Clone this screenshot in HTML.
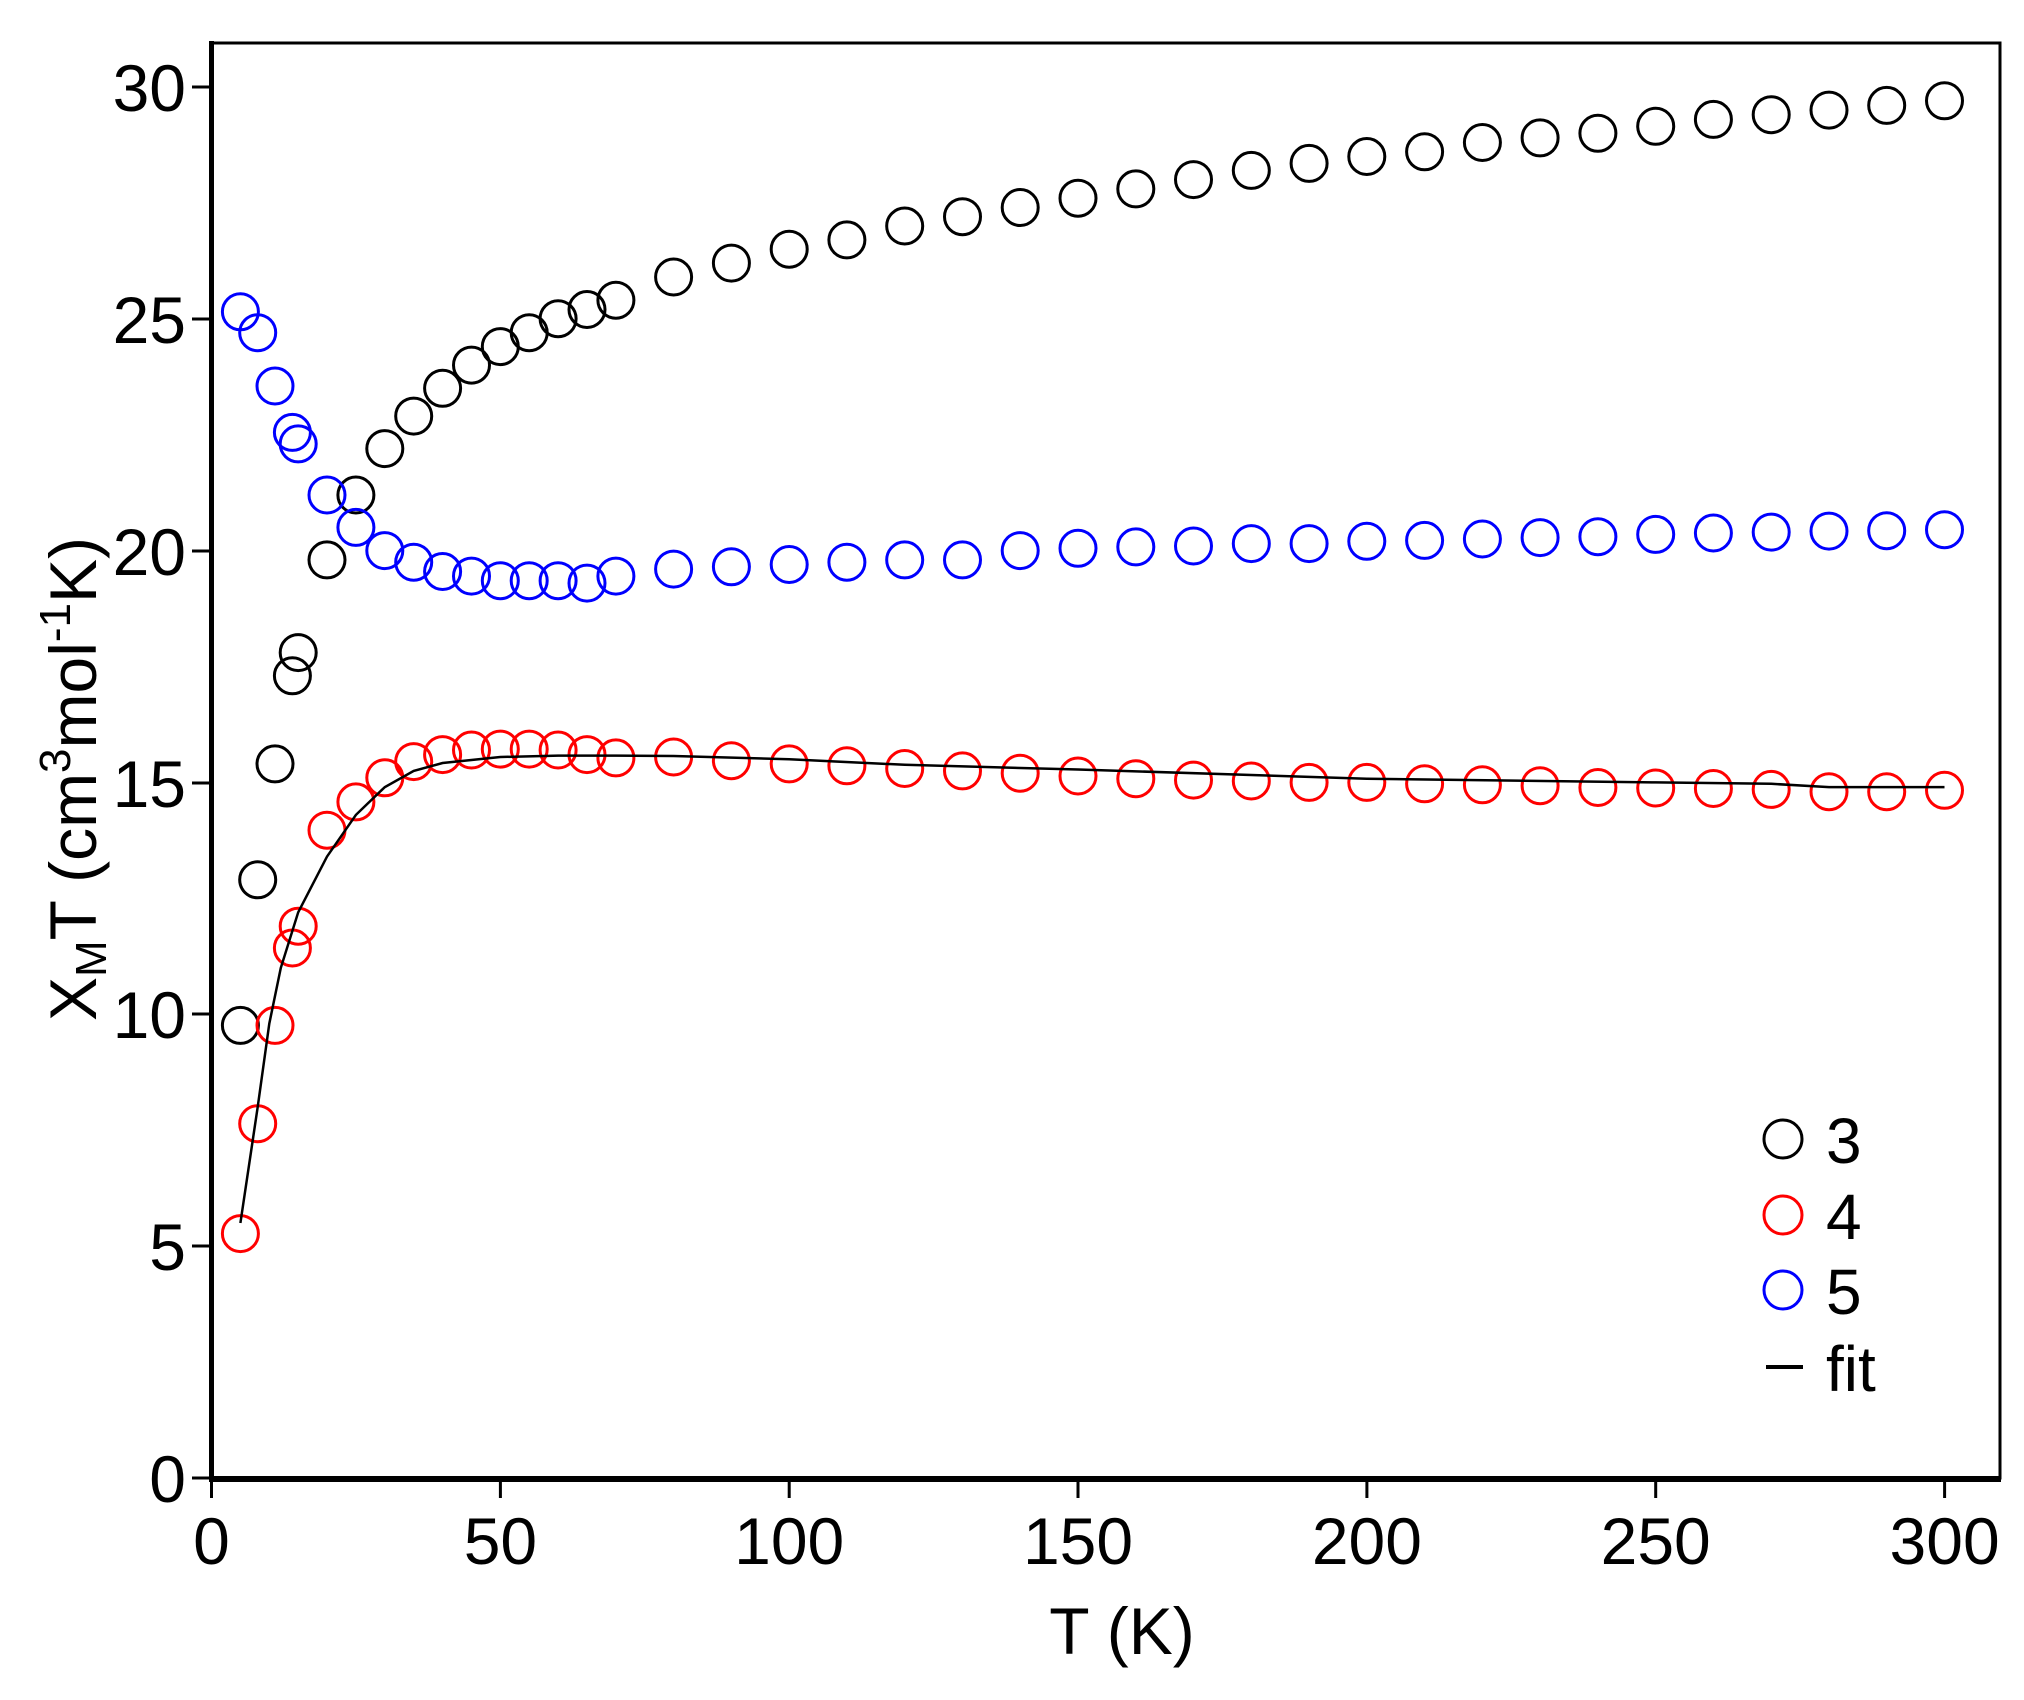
<!DOCTYPE html>
<html><head><meta charset="utf-8"><style>
html,body{margin:0;padding:0;background:#fff;}
svg{display:block;}
text{font-family:"Liberation Sans",sans-serif;fill:#000;}
</style></head><body>
<svg width="2024" height="1700" viewBox="0 0 2024 1700" xmlns="http://www.w3.org/2000/svg">
<rect width="2024" height="1700" fill="#fff"/>
<rect x="211.5" y="43" width="1788.5" height="1435" fill="none" stroke="#000" stroke-width="3"/>
<line x1="211.5" y1="41" x2="211.5" y2="1481" stroke="#000" stroke-width="5"/>
<line x1="209" y1="1479" x2="2001" y2="1479" stroke="#000" stroke-width="6"/>
<g stroke="#000" stroke-width="3">
<line x1="192" y1="1478" x2="211" y2="1478"/>
<line x1="192" y1="1246" x2="211" y2="1246"/>
<line x1="192" y1="1014" x2="211" y2="1014"/>
<line x1="192" y1="783" x2="211" y2="783"/>
<line x1="192" y1="551" x2="211" y2="551"/>
<line x1="192" y1="319" x2="211" y2="319"/>
<line x1="192" y1="87" x2="211" y2="87"/>
<line x1="211.5" y1="1478" x2="211.5" y2="1498"/>
<line x1="500.4" y1="1478" x2="500.4" y2="1498"/>
<line x1="789.2" y1="1478" x2="789.2" y2="1498"/>
<line x1="1078" y1="1478" x2="1078" y2="1498"/>
<line x1="1366.9" y1="1478" x2="1366.9" y2="1498"/>
<line x1="1655.7" y1="1478" x2="1655.7" y2="1498"/>
<line x1="1944.6" y1="1478" x2="1944.6" y2="1498"/>
</g>
<g font-size="66" text-anchor="end">
<text x="186" y="1502">0</text>
<text x="186" y="1270">5</text>
<text x="186" y="1038">10</text>
<text x="186" y="807">15</text>
<text x="186" y="575">20</text>
<text x="186" y="343">25</text>
<text x="186" y="111">30</text>
</g>
<g font-size="66" text-anchor="middle">
<text x="211.5" y="1564">0</text>
<text x="500.4" y="1564">50</text>
<text x="789.2" y="1564">100</text>
<text x="1078" y="1564">150</text>
<text x="1366.9" y="1564">200</text>
<text x="1655.7" y="1564">250</text>
<text x="1944.6" y="1564">300</text>
<text x="1122" y="1654">T (K)</text>
</g>
<text transform="translate(96,779) rotate(-90)" font-size="66" text-anchor="middle">X<tspan font-size="44" dy="10">M</tspan><tspan dy="-10">T (cm</tspan><tspan font-size="44" dy="-26">3</tspan><tspan dy="26">mol</tspan><tspan font-size="44" dy="-26">-1</tspan><tspan dy="26">K)</tspan></text>

<g fill="none" stroke-width="3" stroke="#000">
<circle cx="240.4" cy="1025.4" r="18"/><circle cx="257.7" cy="879.8" r="18"/><circle cx="275.0" cy="763.9" r="18"/><circle cx="292.4" cy="675.8" r="18"/><circle cx="298.2" cy="652.6" r="18"/><circle cx="327.0" cy="559.9" r="18"/><circle cx="355.9" cy="495.0" r="18"/><circle cx="384.8" cy="448.6" r="18"/><circle cx="413.7" cy="416.1" r="18"/><circle cx="442.6" cy="388.3" r="18"/><circle cx="471.5" cy="365.1" r="18"/><circle cx="500.3" cy="346.6" r="18"/><circle cx="529.2" cy="332.7" r="18"/><circle cx="558.1" cy="318.7" r="18"/><circle cx="587.0" cy="309.5" r="18"/><circle cx="615.9" cy="300.2" r="18"/><circle cx="673.6" cy="277.0" r="18"/><circle cx="731.4" cy="263.1" r="18"/><circle cx="789.2" cy="249.2" r="18"/><circle cx="846.9" cy="239.9" r="18"/><circle cx="904.7" cy="226.0" r="18"/><circle cx="962.5" cy="216.7" r="18"/><circle cx="1020.2" cy="207.5" r="18"/><circle cx="1078.0" cy="198.2" r="18"/><circle cx="1135.8" cy="188.9" r="18"/><circle cx="1193.5" cy="179.6" r="18"/><circle cx="1251.3" cy="170.4" r="18"/><circle cx="1309.1" cy="163.4" r="18"/><circle cx="1366.8" cy="156.5" r="18"/><circle cx="1424.6" cy="151.8" r="18"/><circle cx="1482.4" cy="142.5" r="18"/><circle cx="1540.1" cy="137.9" r="18"/><circle cx="1597.9" cy="133.3" r="18"/><circle cx="1655.7" cy="126.3" r="18"/><circle cx="1713.4" cy="119.4" r="18"/><circle cx="1771.2" cy="114.7" r="18"/><circle cx="1829.0" cy="110.1" r="18"/><circle cx="1886.7" cy="105.4" r="18"/><circle cx="1944.5" cy="100.8" r="18"/>
</g>
<g fill="none" stroke-width="3" stroke="#00f">
<circle cx="240.4" cy="311.8" r="18"/><circle cx="257.7" cy="332.7" r="18"/><circle cx="275.0" cy="386.0" r="18"/><circle cx="292.4" cy="432.4" r="18"/><circle cx="298.2" cy="443.9" r="18"/><circle cx="327.0" cy="495.0" r="18"/><circle cx="355.9" cy="527.4" r="18"/><circle cx="384.8" cy="550.6" r="18"/><circle cx="413.7" cy="562.2" r="18"/><circle cx="442.6" cy="571.5" r="18"/><circle cx="471.5" cy="576.1" r="18"/><circle cx="500.3" cy="580.7" r="18"/><circle cx="529.2" cy="580.7" r="18"/><circle cx="558.1" cy="580.7" r="18"/><circle cx="587.0" cy="583.1" r="18"/><circle cx="615.9" cy="576.1" r="18"/><circle cx="673.6" cy="569.1" r="18"/><circle cx="731.4" cy="566.8" r="18"/><circle cx="789.2" cy="564.5" r="18"/><circle cx="846.9" cy="562.2" r="18"/><circle cx="904.7" cy="559.9" r="18"/><circle cx="962.5" cy="559.9" r="18"/><circle cx="1020.2" cy="550.6" r="18"/><circle cx="1078.0" cy="548.3" r="18"/><circle cx="1135.8" cy="546.9" r="18"/><circle cx="1193.5" cy="546.0" r="18"/><circle cx="1251.3" cy="543.6" r="18"/><circle cx="1309.1" cy="543.6" r="18"/><circle cx="1366.8" cy="541.3" r="18"/><circle cx="1424.6" cy="540.4" r="18"/><circle cx="1482.4" cy="539.0" r="18"/><circle cx="1540.1" cy="537.6" r="18"/><circle cx="1597.9" cy="536.7" r="18"/><circle cx="1655.7" cy="534.4" r="18"/><circle cx="1713.4" cy="533.0" r="18"/><circle cx="1771.2" cy="532.1" r="18"/><circle cx="1829.0" cy="531.1" r="18"/><circle cx="1886.7" cy="530.7" r="18"/><circle cx="1944.5" cy="529.7" r="18"/>
</g>
<g fill="none" stroke-width="3" stroke="#f00">
<circle cx="240.4" cy="1233.6" r="18"/><circle cx="257.7" cy="1123.7" r="18"/><circle cx="275.0" cy="1025.4" r="18"/><circle cx="292.4" cy="948.0" r="18"/><circle cx="298.2" cy="926.2" r="18"/><circle cx="327.0" cy="830.2" r="18"/><circle cx="355.9" cy="801.9" r="18"/><circle cx="384.8" cy="777.8" r="18"/><circle cx="413.7" cy="761.6" r="18"/><circle cx="442.6" cy="754.6" r="18"/><circle cx="471.5" cy="750.0" r="18"/><circle cx="500.3" cy="749.1" r="18"/><circle cx="529.2" cy="749.1" r="18"/><circle cx="558.1" cy="750.0" r="18"/><circle cx="587.0" cy="754.6" r="18"/><circle cx="615.9" cy="757.9" r="18"/><circle cx="673.6" cy="757.0" r="18"/><circle cx="731.4" cy="760.7" r="18"/><circle cx="789.2" cy="763.9" r="18"/><circle cx="846.9" cy="765.8" r="18"/><circle cx="904.7" cy="768.5" r="18"/><circle cx="962.5" cy="770.9" r="18"/><circle cx="1020.2" cy="773.2" r="18"/><circle cx="1078.0" cy="776.0" r="18"/><circle cx="1135.8" cy="778.7" r="18"/><circle cx="1193.5" cy="780.1" r="18"/><circle cx="1251.3" cy="781.0" r="18"/><circle cx="1309.1" cy="782.4" r="18"/><circle cx="1366.8" cy="782.4" r="18"/><circle cx="1424.6" cy="783.8" r="18"/><circle cx="1482.4" cy="784.8" r="18"/><circle cx="1540.1" cy="785.7" r="18"/><circle cx="1597.9" cy="787.5" r="18"/><circle cx="1655.7" cy="788.0" r="18"/><circle cx="1713.4" cy="788.5" r="18"/><circle cx="1771.2" cy="789.4" r="18"/><circle cx="1829.0" cy="791.7" r="18"/><circle cx="1886.7" cy="791.7" r="18"/><circle cx="1944.5" cy="790.3" r="18"/>
</g>
<polyline fill="none" stroke="#000" stroke-width="2.5" points="240.4,1223 257.7,1107 269.3,1023.6 280.8,967.9 298.2,912.3 327.0,856.6 355.9,814.9 384.8,787.1 413.7,770.9 442.6,763.0 500.3,757.0 558.1,755.6 615.9,755.6 673.6,756.0 789.2,759.3 904.7,764.8 1078.0,769.5 1251.3,775.0 1366.8,778.7 1655.7,782.4 1771.2,783.8 1829.0,787.1 1944.5,787.1"/>

<circle cx="1783" cy="1139" r="19" fill="none" stroke="#000" stroke-width="3"/>
<circle cx="1783" cy="1215" r="19" fill="none" stroke="#f00" stroke-width="3"/>
<circle cx="1783" cy="1290" r="19" fill="none" stroke="#00f" stroke-width="3"/>
<line x1="1766" y1="1367" x2="1803" y2="1367" stroke="#000" stroke-width="4"/>
<g font-size="64">
<text x="1826" y="1163">3</text>
<text x="1826" y="1239">4</text>
<text x="1826" y="1314">5</text>
<text x="1826" y="1391">fit</text>
</g>
</svg>
</body></html>
